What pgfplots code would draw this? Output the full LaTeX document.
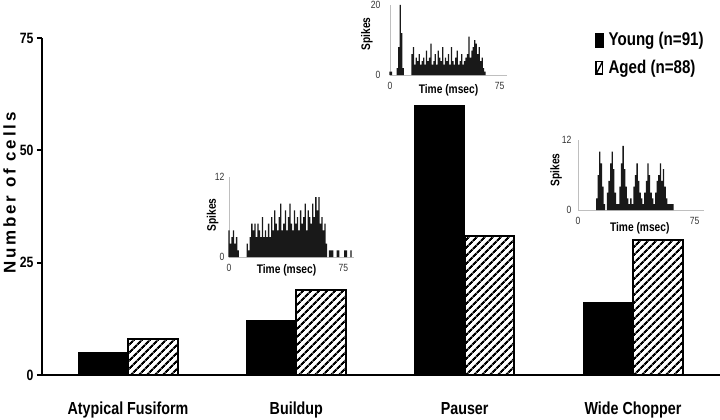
\documentclass[border=0pt]{standalone}
\usepackage{fontspec}
\setmainfont{Liberation Sans}[FakeStretch=0.82]
\newfontfamily\labfont{Liberation Sans}[LetterSpace=17]
\usepackage{pgfplots}
\pgfplotsset{compat=1.18}
\usepackage{pgfplotstable}
\usetikzlibrary{patterns.meta}

% spike histograms of the inset examples (1 ms bins)
\pgfplotstableread{
t n
0 4
1 2
2 3
3 4
4 2
5 3
6 1
12 2
13 1
14 3
15 5
16 4
17 5
18 3
19 5
20 4
21 3
22 6
23 3
24 4
25 3
26 5
27 3
28 6
29 4
30 7
31 5
32 4
33 6
34 8
35 4
36 5
37 7
38 4
39 6
40 8
41 5
42 4
43 7
44 5
45 6
46 4
47 7
48 5
49 6
50 8
51 4
52 7
53 6
54 5
55 8
56 6
57 9
58 7
59 9
60 5
61 6
62 4
63 5
64 2
66 1
67 1
68 1
71 1
72 1
76 1
77 1
80 1
}\buildup

\pgfplotstableread{
t n
0 1
1 1
5 2
6 8
7 20
8 12
9 2
15 6
16 8
17 3
18 5
19 4
20 6
21 3
22 4
23 5
24 3
25 7
26 4
27 5
28 9
29 3
30 4
31 6
32 3
33 7
34 5
35 4
36 8
37 3
38 5
39 4
40 6
41 3
42 8
43 4
44 3
45 5
46 7
47 3
48 4
49 6
50 3
51 4
52 5
53 6
54 11
55 5
56 7
57 8
58 10
59 9
60 6
61 8
62 4
63 5
64 2
65 1
}\pauser

\pgfplotstableread{
t n
12 2
13 6
14 10
15 8
16 4
17 1
19 3
20 5
21 8
22 10
23 7
24 3
25 1
26 1
27 4
28 8
29 11
30 7
31 4
32 2
33 1
34 2
35 1
36 4
37 6
38 8
39 5
40 3
41 2
42 1
43 3
44 5
45 8
46 6
47 3
48 2
49 1
50 3
51 5
52 6
53 8
54 5
55 7
56 4
57 2
58 1
59 1
60 1
61 1
}\chopper

\pgfplotsset{
  inset/.style={
    scale only axis, axis lines=left,
    axis line style={-, draw=black!25, line width=0.5bp},
    major tick length=0pt, tick style={draw=none},
    xmin=0, ymin=0, xtick={0,75},
    ticklabel style={font=\fontsize{10.5}{10.5}\selectfont, text=black!80},
    xticklabel style={anchor=base, yshift=-14bp},
    xlabel={Time (msec)}, ylabel={Spikes},
    label style={font=\fontsize{12.5}{12.5}\selectfont\bfseries},
    /pgf/number format/assume math mode=true,
    clip=false,
  },
  spikes/.style={ybar, bar width=0.85, bar shift=0pt, fill=black!90,
    draw=none},
}

\begin{document}
\begin{tikzpicture}
\path[use as bounding box] (0,0) rectangle (720bp,-420bp);

\begin{axis}[
  at={(42bp,-375bp)}, anchor=south west,
  scale only axis, width=678bp, height=337bp,
  xmin=-0.511, xmax=3.517, ymin=0, ymax=75,
  axis x line=bottom, axis y line=left,
  axis line style={-, line width=2.4bp},
  xtick={0,1,2,3},
  xticklabels={Atypical Fusiform,Buildup,Pauser,Wide Chopper},
  x tick style={draw=none},
  ytick={0,25,50,75},
  y tick style={line width=2bp, black},
  major tick length=5bp, tick align=outside,
  xticklabel style={font=\fontsize{17.5}{17.5}\selectfont\bfseries, anchor=base, yshift=-34bp},
  yticklabel style={font=\fontsize{15}{15}\selectfont\bfseries},
  /pgf/number format/assume math mode=true,
  ylabel={Number of cells},
  ylabel style={font=\labfont\fontsize{17}{17}\selectfont\bfseries,
    at={(axis description cs:-0.048,0.54)}, anchor=center},
  legend style={at={(axis description cs:0.8156,1.023)}, anchor=north west,
    draw=none, fill=none, inner sep=0pt, row sep=9bp,
    font=\fontsize{18.5}{18.5}\selectfont\bfseries,
    nodes={inner xsep=5bp}},
  legend cell align=left,
]
\addplot[ybar, bar width=0.295, bar shift=-0.1475, fill=black, draw=black,
  line width=1.5bp, forget plot]
  coordinates {(0,5) (1,12) (2,60) (3,16)};
\addplot[ybar, bar width=0.295, bar shift=0.1475, draw=black, line width=2bp,
  pattern={Lines[angle=45, distance=6bp, line width=2.4bp]}, pattern color=black,
  forget plot]
  coordinates {(0,8) (1,19) (2,31) (3,30)};
\addlegendimage{legend image code/.code={\fill[black] (0bp,-7bp) rectangle (8bp,7bp);}}
\addlegendentry{Young (n=91)}
\addlegendimage{legend image code/.code={
  \draw[line width=1.4bp, fill=white] (0.7bp,-6.3bp) rectangle (7.3bp,6.3bp);
  \draw[line width=1.4bp] (0.7bp,-6.3bp) -- (7.3bp,6.3bp);}}
\addlegendentry{Aged (n=88)}
\end{axis}

% Buildup example
\begin{axis}[inset, at={(229bp,-257bp)}, anchor=south west,
  width=125bp, height=80bp, xmax=82, ymax=12, ytick={0,12},
  yticklabel style={xshift=-1bp},
  xlabel style={at={(axis description cs:0.46,-0.21)}, anchor=base},
  ylabel style={at={(axis description cs:-0.131,0.525)}, anchor=center}]
\addplot[spikes] table[x=t, y=n] {\buildup};
\end{axis}

% Pauser example
\begin{axis}[inset, at={(390bp,-75bp)}, anchor=south west,
  width=117bp, height=70bp, xmax=80, ymax=20, ytick={0,20},
  yticklabel style={xshift=-6bp},
  xlabel style={at={(axis description cs:0.5,-0.27)}, anchor=base},
  ylabel style={at={(axis description cs:-0.197,0.586)}, anchor=center}]
\addplot[spikes] table[x=t, y=n] {\pauser};
\end{axis}

% Wide Chopper example
\begin{axis}[inset, at={(578bp,-210bp)}, anchor=south west,
  width=126bp, height=70bp, xmax=81, ymax=12, ytick={0,12},
  yticklabel style={xshift=-3bp},
  xlabel style={at={(axis description cs:0.49,-0.3)}, anchor=base},
  ylabel style={at={(axis description cs:-0.173,0.57)}, anchor=center}]
\addplot[spikes] table[x=t, y=n] {\chopper};
\end{axis}
\end{tikzpicture}
\end{document}
